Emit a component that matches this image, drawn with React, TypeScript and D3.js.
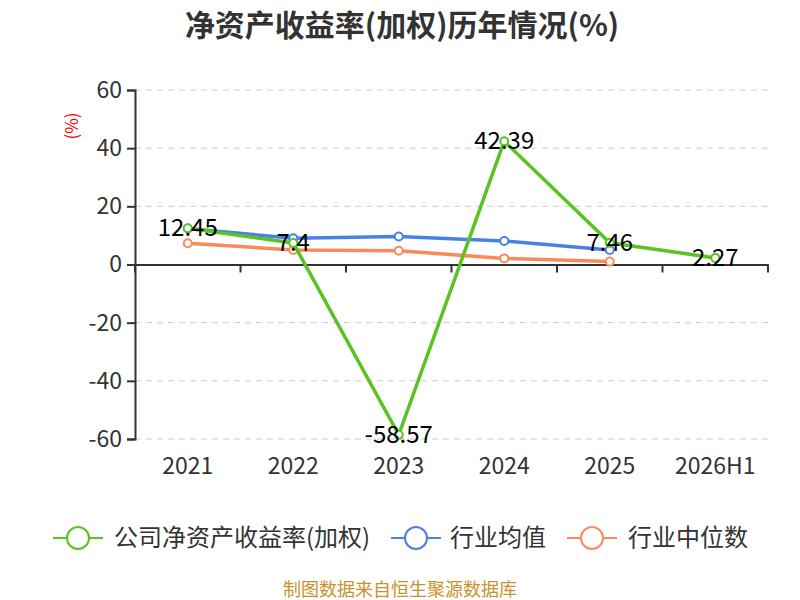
import React, { useRef, useEffect } from "react";
import * as d3 from "d3";

const years = ["2021", "2022", "2023", "2024", "2025", "2026H1"];
const companyRoe: (number | null)[] = [12.45, 7.4, -58.57, 42.39, 7.46, 2.27];
const industryMean: (number | null)[] = [12.4, 9.0, 9.6, 8.1, 5.0, null];
const industryMedian: (number | null)[] = [7.3, 5.0, 4.7, 2.1, 1.0, null];
const yTicks = [-60, -40, -20, 0, 20, 40, 60];

const seriesNames = ["公司净资产收益率(加权)", "行业均值", "行业中位数"];
const seriesColors = ["#58c322", "#4a80e6", "#fb8a5a"];

export default function App() {
  const svgRef = useRef<SVGSVGElement>(null);

  useEffect(() => {
    if (!svgRef.current) return;
    const svg = d3.select(svgRef.current);
    svg.selectAll("*").remove();

    const font = "'Noto Sans CJK SC', 'Noto Sans', sans-serif";
    const left = 135, right = 768, top = 90, bottom = 439;

    const x = d3.scaleBand().domain(years).range([left, right]);
    const y = d3.scaleLinear().domain([-60, 60]).range([bottom, top]);

    // title
    svg.append("text")
      .attr("x", 402).attr("y", 36)
      .attr("text-anchor", "middle")
      .attr("font-family", font)
      .attr("font-size", 30).attr("font-weight", "bold")
      .attr("fill", "#333")
      .text("净资产收益率(加权)历年情况(%)");

    // grid
    svg.append("g").selectAll("line")
      .data(yTicks.filter(t => t !== 0))
      .join("line")
      .attr("x1", left).attr("x2", right)
      .attr("y1", d => y(d)).attr("y2", d => y(d))
      .attr("stroke", "#ccc").attr("stroke-dasharray", "6,5");

    // y axis
    const yAxis = svg.append("g")
      .attr("transform", `translate(${left},0)`)
      .call(d3.axisLeft(y).tickValues(yTicks).tickSize(8).tickPadding(5)
        .tickFormat(d => String(d)));
    yAxis.select(".domain").attr("stroke", "#333").attr("stroke-width", 2);
    yAxis.selectAll(".tick line").attr("stroke", "#333").attr("stroke-width", 2);
    yAxis.selectAll(".tick text")
      .attr("font-family", font).attr("font-size", 23).attr("fill", "#333");

    // y unit
    svg.append("text")
      .attr("transform", `translate(78,126) rotate(-90)`)
      .attr("text-anchor", "middle")
      .attr("font-family", font).attr("font-size", 17)
      .attr("fill", "red")
      .text("(%)");

    // x axis at zero
    const xAxis = svg.append("g")
      .attr("transform", `translate(0,${y(0)})`)
      .call(d3.axisBottom(x).tickSize(0).tickFormat(() => ""));
    xAxis.select(".domain").attr("stroke", "#333").attr("stroke-width", 2);
    svg.append("g").selectAll("line")
      .data(d3.range(years.length + 1))
      .join("line")
      .attr("x1", i => left + i * x.step()).attr("x2", i => left + i * x.step())
      .attr("y1", y(0)).attr("y2", y(0) + 8)
      .attr("stroke", "#333").attr("stroke-width", 2);

    // x labels at bottom
    svg.append("g").selectAll("text")
      .data(years)
      .join("text")
      .attr("x", d => (x(d) as number) + x.bandwidth() / 2)
      .attr("y", 474)
      .attr("text-anchor", "middle")
      .attr("font-family", font).attr("font-size", 23).attr("fill", "#333")
      .text(d => d);

    const cx = (i: number) => (x(years[i]) as number) + x.bandwidth() / 2;
    const allSeries = [companyRoe, industryMean, industryMedian];

    // draw in reverse so company line is on top
    [2, 1, 0].forEach(si => {
      const vals = allSeries[si];
      const pts = vals.map((v, i) => ({ v, i })).filter(p => p.v !== null) as { v: number; i: number }[];
      const line = d3.line<{ v: number; i: number }>()
        .x(p => cx(p.i)).y(p => y(p.v));
      svg.append("path")
        .attr("d", line(pts) || "")
        .attr("fill", "none")
        .attr("stroke", seriesColors[si])
        .attr("stroke-width", 3.5);
      svg.append("g").selectAll("circle")
        .data(pts)
        .join("circle")
        .attr("cx", p => cx(p.i)).attr("cy", p => y(p.v))
        .attr("r", 4)
        .attr("fill", "#fff")
        .attr("stroke", seriesColors[si])
        .attr("stroke-width", 2);
    });

    // company labels
    svg.append("g").selectAll("text")
      .data(companyRoe.map((v, i) => ({ v: v as number, i })))
      .join("text")
      .attr("x", p => cx(p.i))
      .attr("y", p => y(p.v) + 8)
      .attr("text-anchor", "middle")
      .attr("font-family", font).attr("font-size", 24).attr("fill", "#000")
      .text(p => String(p.v));

    // legend
    const legendItems = [
      { x: 53, textX: 114 },
      { x: 391, textX: 450 },
      { x: 567, textX: 628 },
    ];
    legendItems.forEach((it, i) => {
      const g = svg.append("g");
      g.append("line")
        .attr("x1", it.x).attr("x2", it.x + 50)
        .attr("y1", 538).attr("y2", 538)
        .attr("stroke", seriesColors[i]).attr("stroke-width", 2);
      g.append("circle")
        .attr("cx", it.x + 25).attr("cy", 538).attr("r", 11)
        .attr("fill", "#fff").attr("stroke", seriesColors[i]).attr("stroke-width", 2);
      g.append("text")
        .attr("x", it.textX).attr("y", 546)
        .attr("font-family", font).attr("font-size", 24).attr("fill", "#333")
        .text(seriesNames[i]);
    });

    // source
    svg.append("text")
      .attr("x", 400).attr("y", 596)
      .attr("text-anchor", "middle")
      .attr("font-family", font).attr("font-size", 18)
      .attr("fill", "#c8922a")
      .text("制图数据来自恒生聚源数据库");
  }, []);

  return (
    <svg ref={svgRef} width={800} height={600}
      style={{ position: "absolute", left: 0, top: 0, background: "#fff" }} />
  );
}
